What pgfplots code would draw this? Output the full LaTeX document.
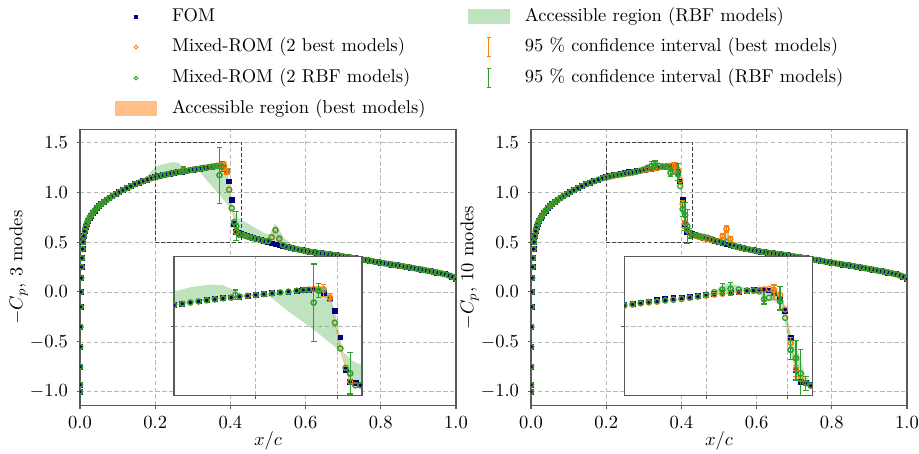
\documentclass[border=0pt]{standalone}
\usepackage{pgfplots}
\pgfplotsset{compat=1.18}
\usepackage{pgfplotstable}
\definecolor{tabor}{HTML}{FF7F0E}
\definecolor{tabgr}{HTML}{2CA02C}
\definecolor{navyc}{HTML}{000080}
\definecolor{framec}{HTML}{5A5A5A}

\pgfplotstableread{
x fom bA rA bB rB
0.0000 -1.000 -1.000 -1.000 -1.000 -1.000
0.0001 -0.930 -0.930 -0.930 -0.930 -0.930
0.0003 -0.750 -0.750 -0.750 -0.750 -0.750
0.0006 -0.550 -0.550 -0.550 -0.550 -0.550
0.0010 -0.350 -0.350 -0.350 -0.350 -0.350
0.0015 -0.150 -0.150 -0.150 -0.150 -0.150
0.0022 0.000 0.000 0.000 0.000 0.000
0.0030 0.140 0.140 0.140 0.140 0.140
0.0040 0.250 0.250 0.250 0.250 0.250
0.0052 0.340 0.340 0.340 0.340 0.340
0.0066 0.430 0.430 0.430 0.430 0.430
0.0083 0.500 0.500 0.500 0.500 0.500
0.0103 0.560 0.560 0.560 0.560 0.560
0.0126 0.610 0.610 0.610 0.610 0.610
0.0152 0.650 0.650 0.650 0.650 0.650
0.0182 0.685 0.685 0.685 0.685 0.685
0.0215 0.715 0.715 0.715 0.715 0.715
0.0252 0.740 0.740 0.740 0.740 0.740
0.0293 0.765 0.765 0.765 0.765 0.765
0.0338 0.790 0.790 0.790 0.790 0.790
0.0388 0.815 0.815 0.815 0.815 0.815
0.0442 0.840 0.840 0.840 0.840 0.840
0.0500 0.860 0.860 0.860 0.860 0.860
0.0563 0.880 0.880 0.880 0.880 0.880
0.0630 0.900 0.900 0.900 0.900 0.900
0.0702 0.920 0.920 0.920 0.920 0.920
0.0779 0.940 0.940 0.940 0.940 0.940
0.0860 0.960 0.960 0.960 0.960 0.960
0.0946 0.980 0.980 0.980 0.980 0.980
0.1040 1.000 1.000 1.000 1.000 1.000
0.1140 1.020 1.020 1.020 1.020 1.020
0.1240 1.040 1.040 1.040 1.040 1.040
0.1350 1.060 1.060 1.060 1.060 1.060
0.1460 1.080 1.080 1.080 1.080 1.080
0.1570 1.095 1.095 1.095 1.095 1.095
0.1680 1.110 1.110 1.110 1.110 1.110
0.1790 1.125 1.125 1.125 1.125 1.125
0.1900 1.140 1.140 1.140 1.138 1.140
0.2000 1.152 1.152 1.150 1.146 1.152
0.2100 1.162 1.162 1.160 1.155 1.160
0.2200 1.171 1.170 1.171 1.163 1.168
0.2300 1.179 1.179 1.178 1.170 1.175
0.2400 1.187 1.186 1.187 1.176 1.180
0.2500 1.194 1.194 1.192 1.185 1.185
0.2600 1.201 1.200 1.201 1.192 1.190
0.2700 1.207 1.207 1.205 1.198 1.196
0.2800 1.213 1.213 1.213 1.205 1.205
0.2900 1.219 1.218 1.219 1.212 1.215
0.3000 1.225 1.225 1.224 1.220 1.228
0.3100 1.231 1.231 1.231 1.227 1.245
0.3200 1.237 1.237 1.236 1.233 1.262
0.3300 1.243 1.243 1.243 1.240 1.270
0.3400 1.249 1.249 1.248 1.246 1.265
0.3500 1.255 1.255 1.255 1.252 1.258
0.3580 1.259 1.260 1.259 1.257 1.255
0.3650 1.263 1.264 1.262 1.262 1.250
0.3710 1.265 1.268 1.170 1.265 1.193
0.3770 1.258 1.268 1.255 1.268 1.205
0.3830 1.241 1.265 1.260 1.262 1.235
0.3907 1.200 1.205 1.205 1.225 1.180
0.3968 1.109 1.025 1.025 1.120 1.060
0.4035 0.920 0.840 0.840 0.880 0.830
0.4100 0.685 0.700 0.700 0.690 0.770
0.4156 0.600 0.600 0.660 0.620 0.660
0.4220 0.590 0.575 0.575 0.590 0.590
0.4280 0.578 0.575 0.575 0.570 0.575
0.4350 0.568 0.568 0.568 0.566 0.570
0.4430 0.558 0.558 0.558 0.556 0.565
0.4510 0.549 0.549 0.549 0.548 0.558
0.4600 0.540 0.540 0.540 0.540 0.552
0.4700 0.530 0.530 0.530 0.530 0.545
0.4800 0.520 0.520 0.520 0.520 0.530
0.4900 0.510 0.510 0.510 0.510 0.512
0.5000 0.500 0.510 0.510 0.510 0.500
0.5100 0.486 0.548 0.548 0.560 0.490
0.5200 0.476 0.620 0.620 0.630 0.500
0.5300 0.466 0.540 0.530 0.530 0.475
0.5400 0.458 0.470 0.470 0.470 0.460
0.5500 0.450 0.450 0.450 0.450 0.450
0.5600 0.442 0.442 0.442 0.442 0.442
0.5700 0.434 0.434 0.434 0.434 0.434
0.5800 0.426 0.426 0.426 0.426 0.426
0.5900 0.418 0.418 0.418 0.418 0.418
0.6000 0.411 0.411 0.411 0.411 0.411
0.6100 0.405 0.405 0.405 0.405 0.405
0.6200 0.399 0.399 0.399 0.399 0.399
0.6300 0.393 0.393 0.393 0.393 0.393
0.6400 0.388 0.388 0.388 0.388 0.388
0.6500 0.383 0.383 0.383 0.383 0.383
0.6600 0.378 0.378 0.378 0.378 0.378
0.6700 0.373 0.373 0.373 0.373 0.373
0.6800 0.368 0.368 0.368 0.368 0.368
0.6900 0.362 0.362 0.362 0.362 0.362
0.7000 0.356 0.356 0.356 0.356 0.356
0.7100 0.350 0.350 0.350 0.350 0.350
0.7200 0.344 0.344 0.344 0.344 0.344
0.7300 0.338 0.338 0.338 0.338 0.338
0.7400 0.332 0.332 0.332 0.332 0.332
0.7500 0.326 0.326 0.326 0.326 0.326
0.7600 0.320 0.320 0.320 0.320 0.320
0.7700 0.314 0.314 0.314 0.314 0.314
0.7800 0.307 0.307 0.307 0.307 0.307
0.7900 0.300 0.300 0.300 0.300 0.300
0.8000 0.294 0.294 0.294 0.294 0.294
0.8100 0.287 0.287 0.287 0.287 0.287
0.8200 0.281 0.281 0.281 0.281 0.281
0.8300 0.275 0.275 0.275 0.275 0.275
0.8400 0.269 0.269 0.269 0.269 0.269
0.8500 0.263 0.263 0.263 0.263 0.263
0.8600 0.257 0.257 0.257 0.257 0.257
0.8700 0.250 0.250 0.250 0.250 0.250
0.8800 0.244 0.244 0.244 0.244 0.244
0.8900 0.237 0.237 0.237 0.237 0.237
0.9000 0.230 0.230 0.230 0.230 0.230
0.9100 0.223 0.223 0.223 0.223 0.223
0.9200 0.216 0.216 0.216 0.216 0.216
0.9300 0.209 0.209 0.209 0.209 0.209
0.9400 0.202 0.202 0.202 0.202 0.202
0.9500 0.195 0.195 0.195 0.195 0.195
0.9600 0.187 0.187 0.187 0.187 0.187
0.9700 0.178 0.178 0.178 0.178 0.178
0.9800 0.167 0.167 0.167 0.167 0.167
0.9900 0.152 0.152 0.152 0.152 0.152
1.0000 0.132 0.132 0.132 0.132 0.132
}\cpdata

% accessible region (RBF models), 3 modes
\pgfplotstableread{
x y
0.1600 1.090
0.1800 1.170
0.2000 1.250
0.2200 1.280
0.2450 1.300
0.2600 1.295
0.2750 1.255
0.2870 1.222
0.3000 1.232
0.3200 1.243
0.3400 1.253
0.3600 1.262
0.3710 1.267
0.3830 1.248
0.3907 1.208
0.3968 1.112
0.4035 0.922
0.4070 0.812
0.4200 0.745
0.4300 0.720
0.4600 0.655
0.4900 0.590
0.5050 0.580
0.5190 0.690
0.5300 0.620
0.5450 0.530
0.5670 0.470
0.6000 0.430
0.6300 0.395
0.6300 0.390
0.6000 0.408
0.5670 0.428
0.5300 0.462
0.5000 0.497
0.4600 0.537
0.4300 0.572
0.4156 0.597
0.4100 0.682
0.4070 0.800
0.3950 0.860
0.3790 0.937
0.3580 1.030
0.3370 1.120
0.3180 1.210
0.3000 1.222
0.2850 1.212
0.2500 1.190
0.2200 1.166
0.2000 1.148
0.1800 1.122
0.1600 1.088
}\grA

% accessible region (best models), 3 modes
\pgfplotstableread{
x y
0.3650 1.266
0.3710 1.275
0.3770 1.280
0.3830 1.275
0.3907 1.215
0.3968 1.040
0.4035 0.860
0.4100 0.715
0.4156 0.610
0.4220 0.582
0.4280 0.578
0.4280 0.570
0.4220 0.568
0.4156 0.590
0.4100 0.685
0.4035 0.820
0.3968 1.010
0.3907 1.195
0.3830 1.255
0.3770 1.258
0.3710 1.262
0.3650 1.260
}\orAa
\pgfplotstableread{
x y
0.5000 0.515
0.5100 0.560
0.5200 0.635
0.5300 0.550
0.5400 0.475
0.5400 0.465
0.5300 0.530
0.5200 0.605
0.5100 0.535
0.5000 0.505
}\orAb

% accessible region (RBF models), 10 modes
\pgfplotstableread{
x y
0.3000 1.225
0.3100 1.250
0.3200 1.300
0.3300 1.310
0.3400 1.290
0.3500 1.268
0.3600 1.262
0.3600 1.252
0.3500 1.250
0.3400 1.244
0.3300 1.236
0.3200 1.228
0.3100 1.226
0.3000 1.222
}\grBa
\pgfplotstableread{
x y
0.3650 1.265
0.3710 1.268
0.3770 1.262
0.3830 1.250
0.3907 1.230
0.3968 1.130
0.4035 0.950
0.4100 0.860
0.4156 0.760
0.4220 0.640
0.4280 0.600
0.4350 0.572
0.4350 0.565
0.4280 0.568
0.4220 0.575
0.4156 0.590
0.4100 0.670
0.4035 0.800
0.3968 1.020
0.3907 1.150
0.3830 1.180
0.3770 1.180
0.3710 1.185
0.3650 1.245
}\grBb
\pgfplotstableread{
x y
0.4430 0.570
0.4600 0.560
0.4800 0.540
0.5000 0.505
0.5100 0.540
0.5200 0.600
0.5300 0.545
0.5450 0.462
0.5450 0.452
0.5300 0.462
0.5200 0.472
0.5100 0.482
0.5000 0.495
0.4800 0.518
0.4600 0.538
0.4430 0.556
}\grBc

% accessible region (best models), 10 modes
\pgfplotstableread{
x y
0.3770 1.275
0.3830 1.280
0.3907 1.240
0.3968 1.140
0.4035 0.900
0.4100 0.710
0.4156 0.630
0.4220 0.595
0.4280 0.575
0.4280 0.565
0.4220 0.585
0.4156 0.610
0.4100 0.675
0.4035 0.860
0.3968 1.100
0.3907 1.210
0.3830 1.245
0.3770 1.258
}\orBa
\pgfplotstableread{
x y
0.5000 0.512
0.5100 0.575
0.5200 0.650
0.5300 0.545
0.5400 0.475
0.5400 0.462
0.5300 0.515
0.5200 0.605
0.5100 0.545
0.5000 0.505
}\orBb

% 95 % confidence intervals
\pgfplotstableread{
x y em ep
0.3770 1.268 0.060 0.040
0.3830 1.265 0.050 0.035
0.3907 1.205 0.030 0.030
}\ciAb
\pgfplotstableread{
x y em ep
0.2750 1.225 0.035 0.035
0.3710 1.170 0.280 0.277
0.3770 1.255 0.050 0.050
0.4156 0.660 0.148 0.150
}\ciAr
\pgfplotstableread{
x y em ep
0.3830 1.262 0.070 0.035
0.4035 0.880 0.040 0.040
0.4100 0.690 0.050 0.030
0.5100 0.560 0.020 0.020
0.5200 0.630 0.030 0.030
0.5300 0.530 0.020 0.020
}\ciBb
\pgfplotstableread{
x y em ep
0.3200 1.262 0.030 0.045
0.3300 1.270 0.045 0.043
0.3710 1.193 0.033 0.057
0.3907 1.180 0.063 0.104
0.4035 0.830 0.072 0.070
0.4100 0.770 0.157 0.130
0.4156 0.660 0.170 0.170
0.4220 0.590 0.050 0.047
}\ciBr

\pgfplotsset{
  fomst/.style={only marks, mark=square*, mark size=1.3pt, color=navyc, mark options={draw=navyc, fill=navyc}, forget plot},
  bestst/.style={only marks, mark=o, mark size=1.4pt, color=tabor, mark options={line width=0.65pt}, forget plot},
  rbfst/.style={only marks, mark=o, mark size=1.4pt, color=tabgr, mark options={line width=0.65pt}, forget plot},
  regbest/.style={draw=none, fill=tabor, fill opacity=0.5, forget plot},
  regrbf/.style={draw=none, fill=tabgr, fill opacity=0.3, forget plot},
  cibest/.style={only marks, mark=o, mark size=1.4pt, color=tabor, mark options={line width=0.65pt}, forget plot,
     error bars/.cd, y dir=both, y explicit,
     error bar style={draw=tabor, color=tabor, line width=0.75pt},
     error mark options={rotate=90, draw=tabor, color=tabor, mark size=1.5pt, line width=0.65pt}},
  cirbf/.style={only marks, mark=o, mark size=1.4pt, color=tabgr, mark options={line width=0.65pt}, forget plot,
     error bars/.cd, y dir=both, y explicit,
     error bar style={draw=tabgr, color=tabgr, line width=0.75pt},
     error mark options={rotate=90, draw=tabgr, color=tabgr, mark size=1.5pt, line width=0.65pt}},
  gridst/.style={grid=major, major grid style={color=black!28, line width=0.35pt, dash pattern=on 2.4pt off 1.3pt}},
  cpaxis/.style={
    scale only axis, width=203.04pt, height=149.26pt, anchor=south west,
    xmin=0, xmax=1, ymin=-1.14, ymax=1.63,
    xtick={0,0.2,0.4,0.6,0.8,1.0}, ytick={-1,-0.5,0,0.5,1,1.5},
    xtick pos=bottom, ytick pos=left, tick align=outside, major tick length=1.8pt,
    gridst, clip marker paths=true,
    axis line style={color=framec, line width=0.55pt},
    tick style={color=framec, line width=0.55pt},
    xticklabel style={inner sep=0pt, anchor=north, yshift=-4.1pt,
      /pgf/number format/fixed, /pgf/number format/fixed zerofill, /pgf/number format/precision=1},
    yticklabel style={inner sep=0pt, anchor=east, xshift=-4.5pt,
      /pgf/number format/fixed, /pgf/number format/fixed zerofill, /pgf/number format/precision=1},
    xlabel={$x/c$},
    xlabel style={at={(axis description cs:0.5,-0.128)}, anchor=center},
    ylabel style={at={(axis description cs:-0.163,0.5)}, anchor=center},
  },
  insetaxis/.style={
    scale only axis, width=101.52pt, height=75.06pt, anchor=south west,
    xmin=0.2, xmax=0.43, ymin=0.5, ymax=1.5,
    xtick={0.3,0.4}, ytick={1.0}, xticklabels={}, yticklabels={},
    xtick pos=bottom, ytick pos=left, tick align=outside, major tick length=1.8pt,
    gridst, clip marker paths=true,
    axis line style={color=framec, line width=0.55pt},
    tick style={color=framec, line width=0.55pt},
    axis background/.style={fill=white},
  },
  zoomrect/.style={color=black!75, line width=0.6pt, dash pattern=on 2pt off 1.2pt, forget plot},
}

\newcommand{\panelA}{%
  \addplot[regrbf] table {\grA};
  \addplot[regbest] table {\orAa};
  \addplot[regbest] table {\orAb};
  \addplot[fomst] table[x=x,y=fom] {\cpdata};
  \addplot[bestst] table[x=x,y=bA] {\cpdata};
  \addplot[rbfst] table[x=x,y=rA] {\cpdata};
  \addplot[cibest] table[x=x,y=y,y error plus=ep,y error minus=em] {\ciAb};
  \addplot[cirbf] table[x=x,y=y,y error plus=ep,y error minus=em] {\ciAr};
}
\newcommand{\panelB}{%
  \addplot[regrbf] table {\grBa};
  \addplot[regrbf] table {\grBb};
  \addplot[regrbf] table {\grBc};
  \addplot[regbest] table {\orBa};
  \addplot[regbest] table {\orBb};
  \addplot[fomst] table[x=x,y=fom] {\cpdata};
  \addplot[bestst] table[x=x,y=bB] {\cpdata};
  \addplot[rbfst] table[x=x,y=rB] {\cpdata};
  \addplot[cibest] table[x=x,y=y,y error plus=ep,y error minus=em] {\ciBb};
  \addplot[cirbf] table[x=x,y=y,y error plus=ep,y error minus=em] {\ciBr};
}

% invisible full-size frame for each legend image
\newcommand{\legframe}{\path[fill=white, draw=none, opacity=0] (0pt,-5pt) rectangle (22.7pt,5pt);}

\begin{document}
\begin{tikzpicture}
\path[use as bounding box] (0pt,0pt) rectangle (496.26pt,244.62pt);

\begin{axis}[cpaxis, at={(43.2pt,25.54pt)}, ylabel={$-C_p$, 3 modes},
  legend columns=2, legend cell align=left,
  legend style={draw=none, fill=none, at={(0.0931,1.441)}, anchor=north west,
    inner sep=0pt, outer sep=0pt, row sep=6.2pt,
    nodes={inner sep=0pt, text height=7.5pt, text depth=2.5pt},
    /tikz/every odd column/.append style={column sep=8.1pt},
    /tikz/every even column/.append style={column sep=22.9pt}}]
  \panelA
  \addplot[zoomrect] coordinates {(0.2,0.5) (0.43,0.5) (0.43,1.5) (0.2,1.5) (0.2,0.5)};
  \addlegendimage{legend image code/.code={\legframe
     \path[fill=navyc, draw=none] (10.3pt,-1.05pt) rectangle (12.4pt,1.05pt);}}
  \addlegendentry{FOM}
  \addlegendimage{legend image code/.code={\legframe
     \path[fill=tabgr, fill opacity=0.3, draw=none] (0pt,-4.2pt) rectangle (22.7pt,4.2pt);}}
  \addlegendentry{Accessible region (RBF models)}
  \addlegendimage{legend image code/.code={\legframe
     \path[draw=tabor, fill=none, line width=0.5pt] (11.35pt,0pt) circle[radius=1.0pt];}}
  \addlegendentry{Mixed-ROM (2 best models)}
  \addlegendimage{legend image code/.code={\legframe
     \path[draw=tabor, fill=none, line width=0.55pt] (11.35pt,-5pt) -- (11.35pt,5pt)
        (10.25pt,-5pt) -- (12.45pt,-5pt) (10.25pt,5pt) -- (12.45pt,5pt);}}
  \addlegendentry{95 \% confidence interval (best models)}
  \addlegendimage{legend image code/.code={\legframe
     \path[draw=tabgr, fill=none, line width=0.5pt] (11.35pt,0pt) circle[radius=1.0pt];}}
  \addlegendentry{Mixed-ROM (2 RBF models)}
  \addlegendimage{legend image code/.code={\legframe
     \path[draw=tabgr, fill=none, line width=0.55pt] (11.35pt,-5pt) -- (11.35pt,5pt)
        (10.25pt,-5pt) -- (12.45pt,-5pt) (10.25pt,5pt) -- (12.45pt,5pt);}}
  \addlegendentry{95 \% confidence interval (RBF models)}
  \addlegendimage{legend image code/.code={\legframe
     \path[fill=tabor, fill opacity=0.5, draw=none] (0pt,-4.2pt) rectangle (22.7pt,4.2pt);}}
  \addlegendentry{Accessible region (best models)}
\end{axis}

\begin{axis}[insetaxis, at={(93.96pt,30.94pt)}]
  \panelA
\end{axis}

\begin{axis}[cpaxis, at={(286.74pt,25.54pt)}, ylabel={$-C_p$, 10 modes}]
  \panelB
  \addplot[zoomrect] coordinates {(0.2,0.5) (0.43,0.5) (0.43,1.5) (0.2,1.5) (0.2,0.5)};
\end{axis}

\begin{axis}[insetaxis, at={(337.12pt,30.94pt)}]
  \panelB
\end{axis}
\end{tikzpicture}
\end{document}
